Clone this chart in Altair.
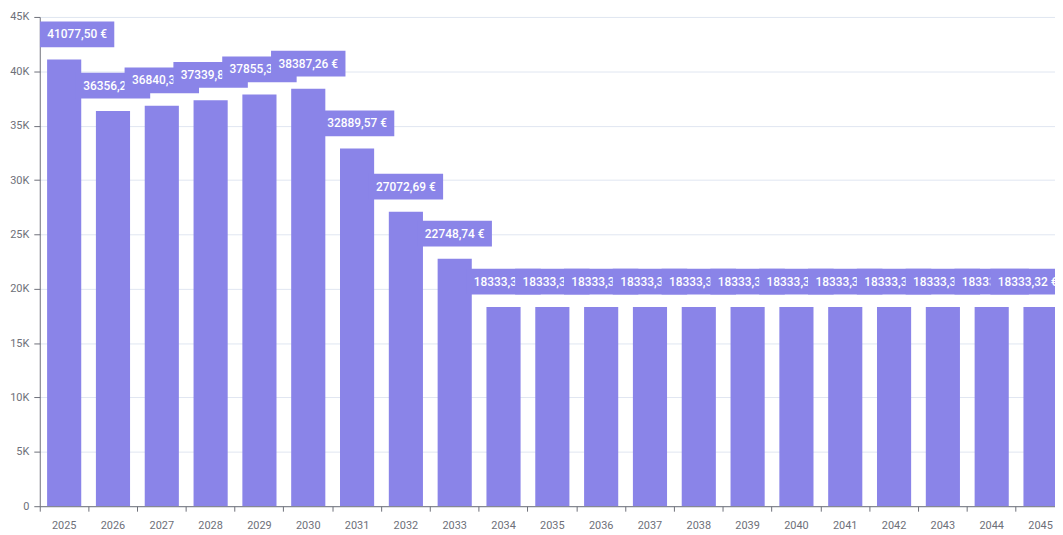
import altair as alt
import pandas as pd

years = [str(y) for y in range(2025, 2046)]
values = [41077.50, 36356.25, 36840.38, 37339.85, 37855.39, 38387.26, 32889.57,
          27072.69, 22748.74] + [18333.32] * 12
labels = [f"{v:.2f}".replace(".", ",") + " €" for v in values]

BAR = "#8A84E8"
AXIS = "#6E7079"
GRID = "#E0E6F1"
FONT = "Roboto"

df = pd.DataFrame({"year": years, "value": values, "label": labels})

W = 1023
RANGE_END = 1033

x_enc = alt.X("year:N", sort=years,
              scale=alt.Scale(range=[0, RANGE_END], paddingInner=0, paddingOuter=0),
              axis=alt.Axis(title=None, bandPosition=0,
                            domainColor=AXIS, tickColor=AXIS, tickSize=5,
                            labelColor=AXIS, labelFont=FONT, labelFontSize=11,
                            labelPadding=8, labelAngle=0, grid=False))
y_enc = alt.Y("value:Q",
              scale=alt.Scale(domain=[0, 45000], nice=False),
              axis=alt.Axis(title=None, values=list(range(0, 45001, 5000)),
                            labelExpr="datum.value == 0 ? '0' : (datum.value / 1000) + 'K'",
                            domain=True, domainColor=AXIS, tickColor=AXIS, tickSize=6,
                            labelColor=AXIS, labelFont=FONT, labelFontSize=11,
                            labelPadding=5, gridColor=GRID, grid=True))

base = alt.Chart(df)
bars = base.mark_bar(color=BAR, width=34.4, clip=True).encode(x=x_enc, y=y_enc)

layers = [bars]
n = len(years)
for i, yr in enumerate(years):
    shift = 0
    if i == 0:
        shift = 13
    elif i == n - 1:
        shift = -13
    sub = base.transform_filter(alt.datum.year == yr)
    box = sub.mark_bar(color=BAR, width=75, clip=True, xOffset=shift, x2Offset=shift,
                       yOffset=-12.5, y2Offset=-38.5).encode(
        x=alt.X("year:N", sort=years),
        y=alt.Y("value:Q"),
        y2=alt.Y2("value"))
    txt = sub.mark_text(color="white", font=FONT, fontSize=12, fontWeight=500,
                        align="center", baseline="middle", dx=shift, dy=-25.5,
                        clip=True).encode(
        x=alt.X("year:N", sort=years),
        y=alt.Y("value:Q"),
        text="label:N")
    layers += [box, txt]

chart = alt.layer(*layers).properties(
    width=W, height=493,
    autosize=alt.AutoSizeParams(type="none"),
    padding={"left": 32, "top": 7, "right": 0, "bottom": 27},
).configure_view(stroke=None)

chart.save("out.html", embed_options={"renderer": "svg", "actions": False})
